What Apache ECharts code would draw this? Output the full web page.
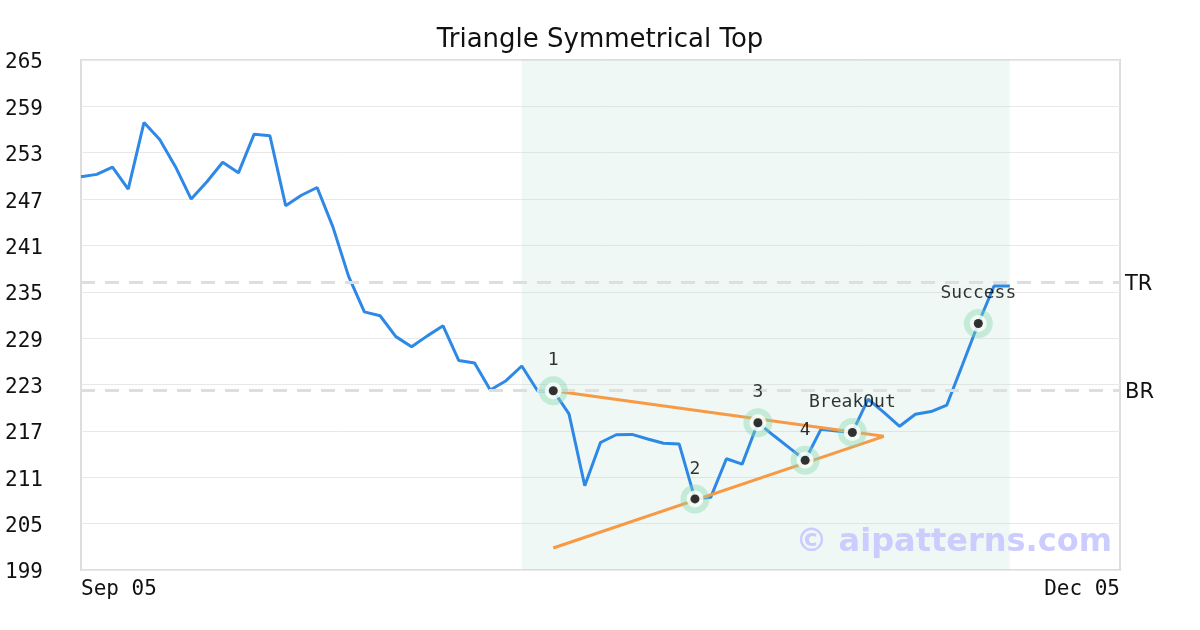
<!DOCTYPE html>
<html><head><meta charset="utf-8">
<script src="https://cdn.jsdelivr.net/npm/echarts@6/dist/echarts.min.js"></script>
<style>html,body{margin:0;padding:0;background:#fff}#c{width:1200px;height:630px}</style>
</head><body><div id="c"></div>
<script>
const chartTitle = 'Triangle Symmetrical Top';
const xTickLabels = ['Sep 05', 'Dec 05'];
const xMaxIndex = 66;
const yMin = 199, yMax = 265, yStep = 6;
const prices = [
  249.9, 250.2, 251.15, 248.3, 256.9, 254.7, 251.2, 247.0, 249.25, 251.76,
  250.4, 255.4, 255.2, 246.15, 247.5, 248.5, 243.4, 237.0, 232.4, 231.9,
  229.2, 227.9, 229.3, 230.6, 226.1, 225.8, 222.3, 223.5, 225.4, 222.2,
  222.2, 219.2, 209.9, 215.5, 216.5, 216.55, 215.95, 215.4, 215.3, 208.2,
  208.4, 213.4, 212.7, 218.06, 216.4, 214.8, 213.2, 217.2, 217.0, 216.8,
  221.1, 219.4, 217.6, 219.15, 219.5, 220.35, 225.6, 230.9, 235.75, 235.75
];
const patternIdx = [30, 39, 43, 46, 49, 57];
const patternLabels = ['1', '2', '3', '4', 'BreakOut', 'Success'];
const triangleTop = [[30, 222.2], [51, 216.3]];
const triangleBottom = [[30, 201.85], [51, 216.3]];
const zoneRange = [28, 59];
const levelNames = ['TR', 'BR'];
const levelValues = [236.3, 222.3];
const watermark = '\u00a9 aipatterns.com';

const mono = 'DejaVu Sans Mono';
const lineData = prices.map((v, i) => [i, v]);
const pts = patternIdx.map(i => [i, prices[i]]);

const chart = echarts.init(document.getElementById('c'), null, {renderer: 'canvas'});
chart.setOption({
  animation: false,
  backgroundColor: '#fff',
  title: {
    text: chartTitle, left: 'center', top: 22,
    textStyle: {fontFamily: 'DejaVu Sans', fontSize: 26, fontWeight: 'normal', color: '#111'}
  },
  grid: {left: 81, right: 80, top: 60, bottom: 60, show: true, borderColor: '#dddddd', borderWidth: 2, backgroundColor: 'transparent'},
  graphic: [{
    type: 'text', right: 88, top: 527, z: 100,
    style: {text: watermark, fontFamily: 'DejaVu Sans', fontWeight: 'bold', fontSize: 32, fill: '#ccccff'}
  }],
  xAxis: {
    type: 'value', min: 0, max: xMaxIndex, interval: xMaxIndex,
    axisLine: {show: false}, axisTick: {show: false}, splitLine: {show: false},
    axisLabel: {
      fontFamily: mono, fontSize: 21, color: '#111', margin: 9,
      alignMinLabel: 'left', alignMaxLabel: 'right',
      formatter: v => v === 0 ? xTickLabels[0] : (v === xMaxIndex ? xTickLabels[1] : '')
    }
  },
  yAxis: {
    type: 'value', min: yMin, max: yMax, interval: yStep,
    axisLine: {show: false}, axisTick: {show: false},
    splitLine: {lineStyle: {color: '#e8e8e8', width: 1}},
    axisLabel: {
      margin: 38,
      formatter: v => '{a|' + v + '}',
      rich: {a: {fontFamily: mono, fontSize: 21, color: '#111', padding: [6, 0, 0, 0]}}
    }
  },
  series: [
    {
      type: 'line', data: lineData, showSymbol: false, symbol: 'none', z: 3,
      lineStyle: {color: '#2e88e6', width: 3},
      markArea: {
        silent: true,
        itemStyle: {color: 'rgba(180,225,205,0.22)'},
        data: [[{xAxis: zoneRange[0]}, {xAxis: zoneRange[1]}]]
      },
      markLine: {
        silent: true, symbol: 'none',
        lineStyle: {color: '#dedede', type: [14, 10], width: 3},
        label: {
          show: true, position: 'end', distance: 5,
          formatter: p => '{a|' + p.name + '}',
          rich: {a: {fontFamily: 'DejaVu Sans', fontSize: 21, color: '#111', padding: [6, 0, 0, 0]}}
        },
        data: levelNames.map((n, k) => ({name: n, yAxis: levelValues[k]}))
      }
    },
    {type: 'line', data: triangleTop, symbol: 'none', z: 4, lineStyle: {color: '#f79a45', width: 3}},
    {type: 'line', data: triangleBottom, symbol: 'none', z: 4, lineStyle: {color: '#f79a45', width: 3}},
    {type: 'scatter', data: pts, symbolSize: 29, z: 5, itemStyle: {color: 'rgba(130,215,175,0.5)'}},
    {type: 'scatter', data: pts, symbolSize: 17, z: 6, itemStyle: {color: '#ffffff'}},
    {
      type: 'scatter', data: pts, symbolSize: 9, z: 7, itemStyle: {color: '#000000'},
      label: {
        show: true, position: 'inside', offset: [0, -30],
        fontFamily: mono, fontSize: 18, color: '#000',
        formatter: p => patternLabels[p.dataIndex]
      }
    }
  ]
});
</script></body></html>
